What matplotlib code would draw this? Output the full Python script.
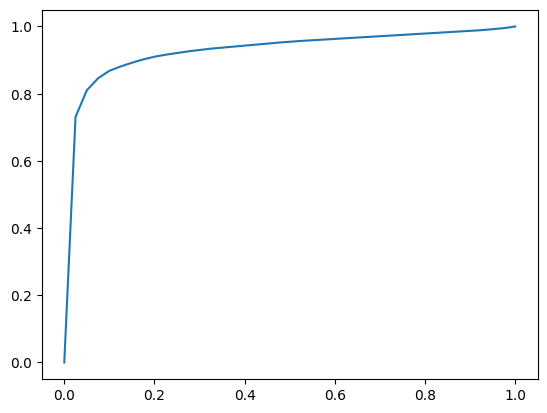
import matplotlib
matplotlib.use("Agg")
import matplotlib.pyplot as plt

fpr = [0.0, 0.025, 0.05, 0.075, 0.1, 0.125, 0.15, 0.175, 0.2, 0.225,
       0.25, 0.275, 0.3, 0.325, 0.35, 0.375, 0.4, 0.425, 0.45, 0.475,
       0.5, 0.525, 0.55, 0.575, 0.6, 0.625, 0.65, 0.675, 0.7, 0.725,
       0.75, 0.775, 0.8, 0.825, 0.85, 0.875, 0.9, 0.925, 0.95, 0.975, 1.0]
tpr = [0.0, 0.731, 0.810, 0.846, 0.868, 0.881, 0.892, 0.902, 0.910, 0.916,
       0.921, 0.926, 0.930, 0.934, 0.937, 0.940, 0.943, 0.946, 0.949, 0.952,
       0.9545, 0.957, 0.959, 0.961, 0.963, 0.965, 0.967, 0.969, 0.971, 0.973,
       0.975, 0.977, 0.979, 0.981, 0.983, 0.985, 0.987, 0.989, 0.992, 0.995, 1.0]

fig, ax = plt.subplots(figsize=(6.4, 4.8), dpi=100)
ax.plot(fpr, tpr)
fig.savefig("out.png", dpi=100, bbox_inches="tight")
